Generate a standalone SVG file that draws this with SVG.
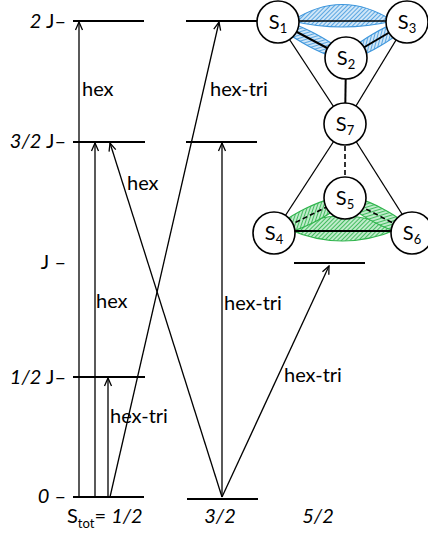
<svg xmlns="http://www.w3.org/2000/svg" width="428" height="535" viewBox="0 0 428 535">
<defs>
<style>
text{font-family:Lato,"Liberation Sans",sans-serif;font-size:20px;fill:#000}
.lvl{stroke:#000;stroke-width:2.2;fill:none}
.arr{stroke:#000;stroke-width:1.3;fill:none;marker-end:url(#ah)}
.thin{stroke:#000;stroke-width:1.3;fill:none}
.thick{stroke:#000;stroke-width:2;fill:none}
.dash{stroke:#000;stroke-width:1.6;fill:none;stroke-dasharray:5 3}
.node{fill:#fff;stroke:#000;stroke-width:1.6}
.blue{fill:url(#hb);stroke:#3d96dc;stroke-width:1.2}
.green{fill:url(#hg);stroke:#2fb44c;stroke-width:1.2}
.it{font-style:italic}
.sub{font-size:13px}
</style>
<pattern id="hb" patternUnits="userSpaceOnUse" width="3" height="3" patternTransform="rotate(45)">
<rect width="3" height="3" fill="#cfe6f8"/>
<line x1="0" y1="0" x2="0" y2="3" stroke="#3d96dc" stroke-width="1.6"/>
</pattern>
<pattern id="hg" patternUnits="userSpaceOnUse" width="3" height="3" patternTransform="rotate(45)">
<rect width="3" height="3" fill="#bfeccb"/>
<line x1="0" y1="0" x2="0" y2="3" stroke="#2fb44c" stroke-width="1.7"/>
</pattern>
<marker id="ah" markerUnits="userSpaceOnUse" viewBox="-9 -5 10 10" refX="0" refY="0" markerWidth="10" markerHeight="10" orient="auto">
<path d="M-8,-3.5 L0,0 L-8,3.5" fill="none" stroke="#000" stroke-width="1.3"/>
</marker>
</defs>

<g id="axis-labels">
<text x="66" y="28" text-anchor="end"><tspan class="it">2</tspan> J–</text>
<text x="66" y="148" text-anchor="end"><tspan class="it">3/2</tspan> J–</text>
<text x="66" y="269" text-anchor="end">J –</text>
<text x="66" y="384" text-anchor="end"><tspan class="it">1/2</tspan> J–</text>
<text x="66" y="503" text-anchor="end"><tspan class="it">0</tspan> –</text>
</g>

<g id="levels">
<line class="lvl" x1="73" y1="21" x2="144" y2="21"/>
<line class="lvl" x1="73" y1="142" x2="145" y2="142"/>
<line class="lvl" x1="73" y1="377" x2="145" y2="377"/>
<line class="lvl" x1="73" y1="497" x2="144" y2="497"/>
<line class="lvl" x1="186" y1="21" x2="258" y2="21"/>
<line class="lvl" x1="186" y1="142" x2="257" y2="142"/>
<line class="lvl" x1="187" y1="499" x2="258" y2="499"/>
<line class="lvl" x1="294" y1="263" x2="365" y2="263"/>
</g>

<g id="bottom-labels">
<text x="67" y="523">S<tspan class="sub" dy="5">tot</tspan><tspan dy="-5">= </tspan><tspan class="it">1/2</tspan></text>
<text x="220" y="523" text-anchor="middle" class="it">3/2</text>
<text x="318" y="523" text-anchor="middle" class="it">5/2</text>
</g>

<g id="connectors">
<line class="arr" x1="79" y1="497" x2="79" y2="22"/>
<line class="arr" x1="95" y1="497" x2="95" y2="143"/>
<line class="arr" x1="108" y1="497" x2="108" y2="378"/>
<line class="arr" x1="110" y1="497" x2="219" y2="22"/>
<line class="arr" x1="222" y1="497" x2="110" y2="143"/>
<line class="arr" x1="222" y1="497" x2="222" y2="143"/>
<line class="arr" x1="222" y1="497" x2="329" y2="266"/>
</g>

<g id="transition-labels">
<text x="82" y="96">hex</text>
<text x="210" y="96">hex-tri</text>
<text x="127" y="190">hex</text>
<text x="96" y="308">hex</text>
<text x="224" y="310">hex-tri</text>
<text x="284" y="382">hex-tri</text>
<text x="110" y="423">hex-tri</text>
</g>

<g id="cluster-bonds">
<path class="blue" d="M292,21 Q342,-12 393,21 Q342,33 292,21 Z"/>
<ellipse class="blue" cx="312" cy="40" rx="38" ry="7" transform="rotate(27.9 312 40)"/>
<ellipse class="blue" cx="376.5" cy="40" rx="36" ry="7" transform="rotate(-30.5 376.5 40)"/>
<path class="green" d="M288,229 Q342,203 398,229 Q342,253 288,229 Z"/>
<ellipse class="green" cx="309.5" cy="215.5" rx="38" ry="8" transform="rotate(-26.2 309.5 215.5)"/>
<ellipse class="green" cx="378.5" cy="215.5" rx="37" ry="8" transform="rotate(27.6 378.5 215.5)"/>
<line class="thin" x1="278" y1="21" x2="407" y2="21"/>
<line class="thick" x1="278" y1="22" x2="346" y2="58"/>
<line class="thick" x1="346" y1="58" x2="407" y2="22"/>
<line class="thick" x1="346" y1="58" x2="345" y2="124"/>
<line class="thin" x1="278" y1="22" x2="345" y2="124"/>
<line class="thin" x1="407" y1="22" x2="345" y2="124"/>
<line class="thin" x1="345" y1="124" x2="274" y2="233"/>
<line class="thin" x1="345" y1="124" x2="414" y2="233"/>
<line class="dash" x1="345" y1="146" x2="345" y2="177"/>
<line class="dash" x1="274" y1="233" x2="345" y2="198"/>
<line class="dash" x1="345" y1="198" x2="412" y2="233"/>
<line class="thick" x1="274" y1="231" x2="412" y2="231"/>
</g>

<g id="S1"><circle class="node" cx="278" cy="22" r="21"/><text x="278" y="29" text-anchor="middle">S<tspan class="sub" dy="4">1</tspan></text></g>
<g id="S3"><circle class="node" cx="407" cy="22" r="21"/><text x="407" y="29" text-anchor="middle">S<tspan class="sub" dy="4">3</tspan></text></g>
<g id="S2"><circle class="node" cx="346" cy="58" r="21"/><text x="346" y="65" text-anchor="middle">S<tspan class="sub" dy="4">2</tspan></text></g>
<g id="S7"><circle class="node" cx="345" cy="124" r="21"/><text x="345" y="131" text-anchor="middle">S<tspan class="sub" dy="4">7</tspan></text></g>
<g id="S5"><circle class="node" cx="345" cy="198" r="21"/><text x="345" y="205" text-anchor="middle">S<tspan class="sub" dy="4">5</tspan></text></g>
<g id="S4"><circle class="node" cx="274" cy="233" r="21"/><text x="274" y="240" text-anchor="middle">S<tspan class="sub" dy="4">4</tspan></text></g>
<g id="S6"><circle class="node" cx="412" cy="233" r="21"/><text x="412" y="240" text-anchor="middle">S<tspan class="sub" dy="4">6</tspan></text></g>
</svg>
